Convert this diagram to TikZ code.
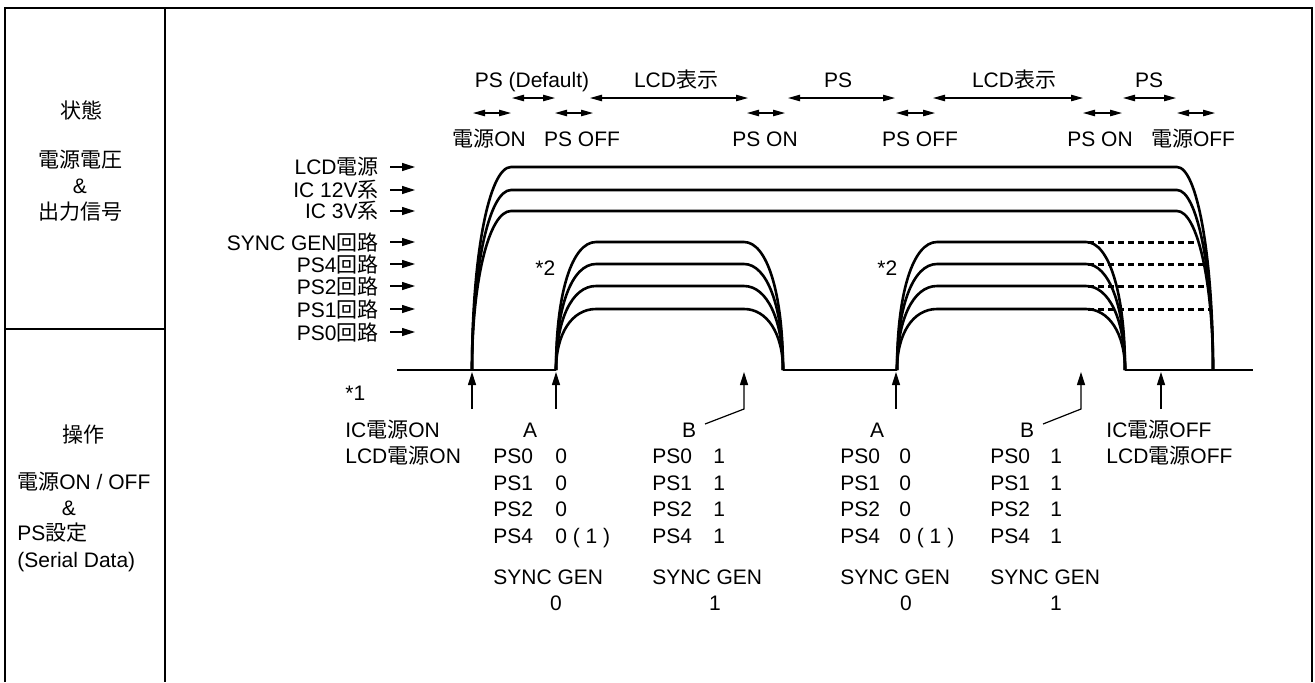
\documentclass[tikz,border=0pt]{standalone}
\usepackage{fontspec}
\setmainfont{Liberation Sans}
\newfontfamily\jpfont{Noto Sans CJK JP}
\newcommand{\jp}[1]{{\jpfont#1}}
\usetikzlibrary{arrows.meta}
\tikzset{
    sig/.style={line width=1.3pt},
    frm/.style={line width=1.1pt},
    arr/.style={line width=0.6pt,-{Triangle[length=6.5pt,width=4pt]}},
    dur/.style={line width=0.6pt,{Triangle[length=6pt,width=3.2pt]}-{Triangle[length=6pt,width=3.2pt]}},
    lbl/.style={inner sep=0pt}
}

\begin{document}
\begin{tikzpicture}[x=0.5pt,y=-0.5pt,font=\fontsize{10.5}{13}\selectfont]
\useasboundingbox (0,0) rectangle (1315,682);
% frame
\draw[frm] (5,682) -- (5,8) -- (1312,8) -- (1312,682);
\draw[frm] (165,8) -- (165,682);
\draw[frm] (5,329) -- (165,329);
% left column
\node (state) at (81,110) {\jp{状態}};
\node[align=center] (volt) at (80,186) {\jp{電源電圧}\\\&\\\jp{出力信号}};
\node (ctrl) at (83,435) {\jp{操作}};
\node[lbl,anchor=base west] (ctl1) at (17,489.5) {\jp{電源}ON / OFF};
\node[lbl,anchor=base] (ctl2) at (69,515) {\&};
\node[lbl,anchor=base west] (ctl3) at (17,540.5) {PS\jp{設定}};
\node[lbl,anchor=base west] (ctl4) at (17,567) {(Serial Data)};
% signal names
\foreach \y/\txt [count=\i] in {167/LCD\jp{電源}, 190/IC 12V\jp{系}, 211/IC 3V\jp{系}, 242/SYNC GEN\jp{回路}, 264/PS4\jp{回路}, 286/PS2\jp{回路}, 309/PS1\jp{回路}, 332/PS0\jp{回路}}{
    \node[lbl,anchor=east] (lab\i) at (379,\y) {\txt};
    \draw[arr] ([xshift=5.5pt]lab\i.east) -- ++(25,0);
}
% states (upper row) and events (lower row)
\foreach \xa/\xb/\xl/\txt [count=\i] in {512/555/532/{PS (Default)}, 590/748/676/LCD\jp{表示}, 788/895/838/PS, 933/1083/1014/LCD\jp{表示}, 1123/1176/1149/PS}{
    \node[lbl,anchor=base] (ph\i) at (\xl,87) {\txt};
    \draw[dur] (\xa,98) -- (\xb,98);
}
\foreach \xa/\xb/\xl/\txt [count=\i] in {473/511/489/\jp{電源}ON, 555/593/582/PS OFF, 747/785/765/PS ON, 896/935/920/PS OFF, 1083/1122/1100/PS ON, 1177/1215/1193/\jp{電源}OFF}{
    \node[lbl,anchor=base] (ev\i) at (\xl,146) {\txt};
    \draw[dur] (\xa,113) -- (\xb,113);
}
% ground level
\draw[sig] (397,370) -- (556,370);
\draw[sig] (783,370) -- (897,370);
\draw[sig] (1125,370) -- (1253,370);
% supplies
\foreach \lv in {167,190,211}{
    \draw[sig] (472,370) .. controls +(0,{-0.56*(370-\lv)}) and +(-22,0) .. (511,\lv) -- (1177,\lv) .. controls +(20,0) and +(0,{-0.56*(370-\lv)}) .. (1213,370);
}
% PS circuits
\foreach \lv in {242,264,286,309}{
    \draw[sig] (556,370) .. controls +(0,{-0.6*(370-\lv)}) and +(-24,0) .. (596,\lv) -- (744,\lv) .. controls +(23,0) and +(0,{-0.6*(370-\lv)}) .. (783,370);
    \draw[sig] (897,370) .. controls +(0,{-0.6*(370-\lv)}) and +(-24,0) .. (937,\lv) -- (1086,\lv) .. controls +(23,0) and +(0,{-0.6*(370-\lv)}) .. (1125,370);
}
\foreach \lv/\xe in {242/1198,264/1204,286/1207,309/1210}{
    \draw[sig,line width=1.5pt,dash pattern=on 3pt off 2pt] (1088,\lv) -- (\xe,\lv);
}
\node[lbl,anchor=base west] (ast2a) at (535,275) {*2};
\node[lbl,anchor=base west] (ast2b) at (877,275) {*2};
% operations
\foreach \x in {472,556,896,1161}{
    \draw[arr] (\x,409) -- (\x,372);
}
\draw[arr] (705,424) -- (744,409) -- (744,372);
\draw[arr] (1043,424) -- (1081,409) -- (1081,372);
\node[lbl,anchor=base west] (ast1) at (345,400) {*1};
\node[lbl,anchor=base west] (icon) at (345,437.5) {IC\jp{電源}ON};
\node[lbl,anchor=base west] (lcdon) at (345,463.5) {LCD\jp{電源}ON};
\node[lbl,anchor=base west] (icoff) at (1106,437.5) {IC\jp{電源}OFF};
\node[lbl,anchor=base west] (lcdoff) at (1106,463.5) {LCD\jp{電源}OFF};
\foreach \gx/\gv/\gd/\nm/\a/\b [count=\i] in {493/555/556/A/0/{0 ( 1 )}, 652/713/715/B/1/1, 840/899/906/A/0/{0 ( 1 )}, 990/1050/1056/B/1/1}{
    \node[lbl,anchor=base] (set\i) at (\gx+37,437.5) {\nm};
    \foreach \k/\y in {0/463.5,1/490.5,2/516.5}{
        \node[lbl,anchor=base west] (ps\k\i) at (\gx,\y) {PS\k};
        \node[lbl,anchor=base west] (v\k\i) at (\gv,\y) {\a};
    }
    \node[lbl,anchor=base west] (ps4\i) at (\gx,543.5) {PS4};
    \node[lbl,anchor=base west] (v4\i) at (\gv,543.5) {\b};
    \node[lbl,anchor=base west] (sg\i) at (\gx,584.5) {SYNC GEN};
    \node[lbl,anchor=base] (sv\i) at (\gd,610.5) {\a};
}
\end{tikzpicture}
\end{document}
